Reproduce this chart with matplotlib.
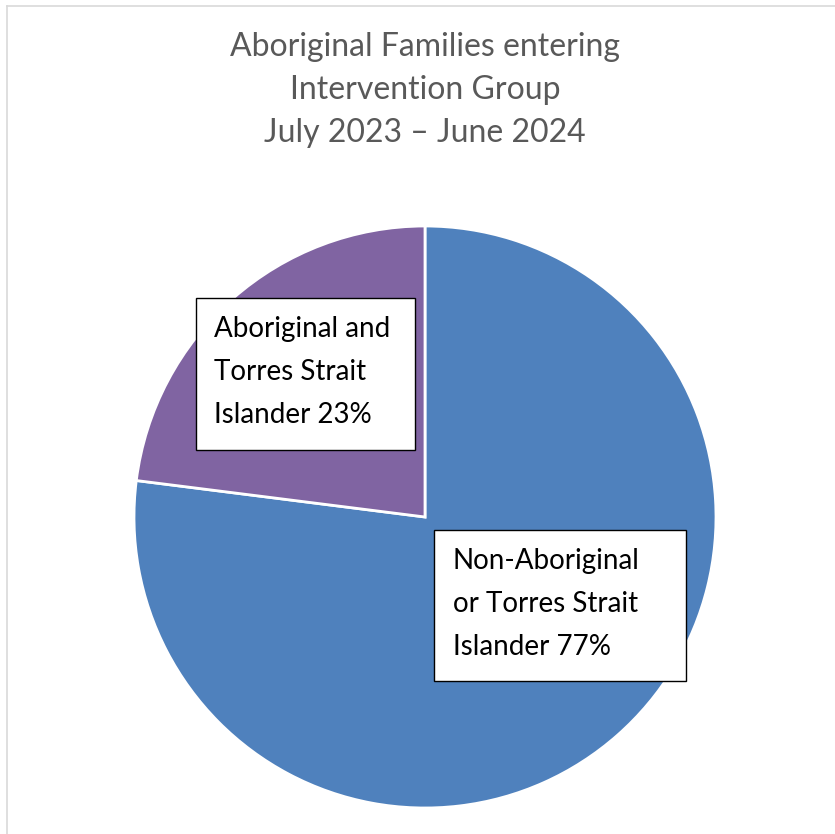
import matplotlib
matplotlib.use('Agg')
import matplotlib.pyplot as plt
from matplotlib.lines import Line2D
from matplotlib.patches import Rectangle

# share of families entering the intervention group
groups = ['Non-Aboriginal\nor Torres Strait\nIslander', 'Aboriginal and\nTorres Strait\nIslander']
shares = [77, 23]
colors = ['#4f81bd', '#8064a2']
title = 'Aboriginal Families entering\nIntervention Group\nJuly 2023 \u2013 June 2024'

plt.rcParams['font.family'] = ['Lato', 'DejaVu Sans']

fig = plt.figure(figsize=(8.35, 8.34), dpi=100)
fig.patch.set_facecolor('white')

# thin grey frame along the top and left edges
fig.add_artist(Line2D([6.5 / 835, 1], [1 - 5.5 / 834, 1 - 5.5 / 834], transform=fig.transFigure,
                      color='#d9d9d9', lw=1.2))
fig.add_artist(Line2D([6.5 / 835, 6.5 / 835], [0, 1 - 5.5 / 834], transform=fig.transFigure,
                      color='#d9d9d9', lw=1.2))

fig.text(0.509, 1 - 32 / 834, title, ha='center', va='top', fontsize=23,
         color='#595959', linespacing=1.55)

ax = fig.add_axes([134 / 835, 26 / 834, 582 / 835, 582 / 834])
wedges, _ = ax.pie(shares, colors=colors, startangle=90, counterclock=False, radius=1,
                   wedgeprops=dict(edgecolor='white', linewidth=2))
ax.set_xlim(-1, 1)
ax.set_ylim(-1, 1)
ax.set_aspect('equal')
ax.axis('off')

# label boxes (left, bottom, width, height) and text anchor (left, top), data units
box_rects = [(0.031, -0.564, 0.866, 0.519), (-0.787, 0.230, 0.753, 0.523)]
text_pos = [(0.096, -0.107), (-0.725, 0.690)]
for name, val, rect, (tx, ty) in zip(groups, shares, box_rects, text_pos):
    ax.add_patch(Rectangle(rect[:2], rect[2], rect[3], facecolor='white',
                           edgecolor='black', linewidth=1, zorder=3))
    ax.text(tx, ty, f'{name} {val}%', ha='left', va='top', fontsize=20,
            color='black', linespacing=1.8, zorder=4)

fig.savefig('out.png', dpi=100, facecolor='white')
